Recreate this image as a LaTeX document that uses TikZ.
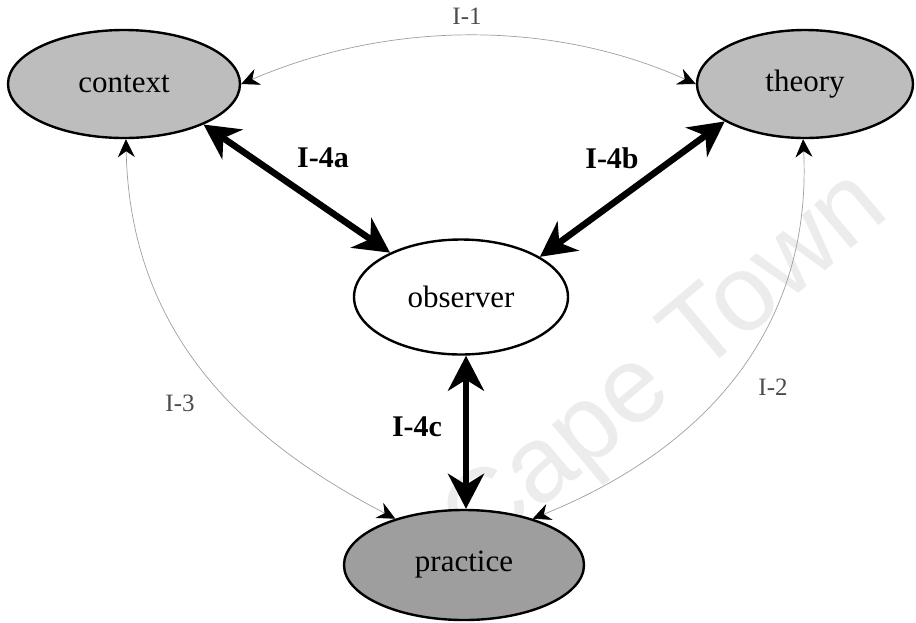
\documentclass[tikz,border=0pt]{standalone}
\usepackage{fontspec}
\setmainfont{Liberation Serif}
\newfontfamily\wmfont{Liberation Sans}
\usetikzlibrary{arrows.meta,shapes.geometric}

\begin{document}
\begin{tikzpicture}[x=1pt,y=-1pt,
  blob/.style={ellipse, draw=black, line width=2.4pt, inner sep=0pt,
    font=\fontsize{31}{31}\selectfont},
  heavy/.style={line width=6.5pt,
    {Stealth[length=35pt,width=36pt,inset=11pt]}-{Stealth[length=35pt,width=36pt,inset=11pt]}},
  faint/.style={line width=0.7pt, draw=gray!75,
    {Stealth[length=18pt,width=17pt,inset=6pt,color=black]}-{Stealth[length=18pt,width=17pt,inset=6pt,color=black]}},
  boldlabel/.style={font=\bfseries\fontsize{30}{30}\selectfont},
  thinlabel/.style={font=\fontsize{25}{25}\selectfont, text=black!70}
]
  % canvas
  \fill[white] (0,0) rectangle (916,622);
  \useasboundingbox (0,0) rectangle (916,622);

  % watermark
  \node[rotate=40, text=gray!15, font=\wmfont\fontsize{108}{108}\selectfont]
    (wm) at (668,368) {Cape Town};

  % the four positions
  \node[blob, fill=black!26, minimum width=232pt, minimum height=108pt] (ctx) at (124,84) {context};
  \node[blob, fill=black!26, minimum width=216pt, minimum height=108pt] (theo) at (805,84) {theory};
  \node[blob, fill=white, minimum width=214pt, minimum height=115pt] (obs) at (461,297) {observer};
  \node[blob, fill=black!38, minimum width=240pt, minimum height=110pt] (prac) at (464,565) {practice};

  % thin links between context, theory and practice
  \draw[faint] (ctx.east) .. controls (388,21) and (551,19) .. (theo.west);
  \draw[faint] (ctx.272) .. controls (130,330) and (238,437) .. (prac.146);
  \draw[faint] (theo.268) .. controls (812,320) and (715,445) .. (prac.34);

  % heavy links to the observer
  \draw[heavy] (ctx.-27) -- (obs.148);
  \draw[heavy] (theo.205) -- (obs.27);
  \draw[heavy] ([xshift=5pt]obs.south) -- ([xshift=5pt]obs.south |- prac.north);

  % labels
  \node[thinlabel] (l1) at (467,16) {I-1};
  \node[thinlabel] (l2) at (773,387) {I-2};
  \node[thinlabel] (l3) at (180,403) {I-3};
  \node[boldlabel] (l4a) at (323,158) {I-4a};
  \node[boldlabel] (l4b) at (612,158) {I-4b};
  \node[boldlabel] (l4c) at (417,427) {I-4c};
\end{tikzpicture}
\end{document}
